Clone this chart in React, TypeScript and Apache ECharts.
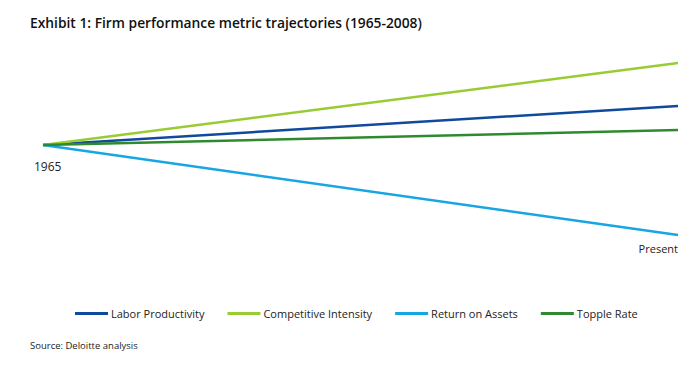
import React, { useEffect, useRef } from "react";
import * as echarts from "echarts";

const categories = ["1965", "Present"];
const laborProductivity = [0, 39];
const competitiveIntensity = [0, 82];
const returnOnAssets = [0, -90];
const toppleRate = [0, 15];
const seriesNames = ["Labor Productivity", "Competitive Intensity", "Return on Assets", "Topple Rate"];
const colors = ["#0f4a9c", "#99cc33", "#17a6e3", "#2f8a2f"];

export default function App() {
  const ref = useRef<HTMLDivElement>(null);
  useEffect(() => {
    if (!ref.current) return;
    const chart = echarts.init(ref.current, undefined, { renderer: "svg" });
    const font = "'Open Sans', 'Noto Sans', sans-serif";
    const data = [laborProductivity, competitiveIntensity, returnOnAssets, toppleRate];
    chart.setOption({
      animation: false,
      textStyle: { fontFamily: font },
      title: {
        text: "Exhibit 1: Firm performance metric trajectories (1965-2008)",
        left: 25,
        top: 10,
        textStyle: { fontFamily: font, fontSize: 13.8, fontWeight: 600, color: "#111" },
      },
      grid: { left: 43, right: 22, top: 45, bottom: 123 },
      xAxis: {
        type: "category",
        data: categories,
        boundaryGap: false,
        show: false,
      },
      yAxis: { type: "value", min: -100, max: 100, show: false },
      legend: {
        data: seriesNames,
        left: 70,
        top: 303,
        itemWidth: 33,
        itemHeight: 3,
        itemGap: 23,
        icon: "rect",
        textStyle: { fontFamily: font, fontSize: 11, color: "#222", padding: [0, 0, 0, -2] },
      },
      series: seriesNames.map((name, i) => ({
        name,
        type: "line",
        data: data[i],
        symbol: "none",
        lineStyle: { width: 2.5, color: colors[i] },
        itemStyle: { color: colors[i] },
      })),
      graphic: [
        { type: "text", left: 34, top: 160, style: { text: categories[0], font: `12px ${font}`, fill: "#222" } },
        { type: "text", right: 22, top: 243, style: { text: categories[1], font: `11px ${font}`, fill: "#222" } },
        { type: "text", left: 30, top: 340, style: { text: "Source: Deloitte analysis", font: `9.5px ${font}`, fill: "#222" } },
      ],
    });
    return () => chart.dispose();
  }, []);
  return <div ref={ref} style={{ width: 700, height: 368, position: "absolute", left: 0, top: 0 }} />;
}
